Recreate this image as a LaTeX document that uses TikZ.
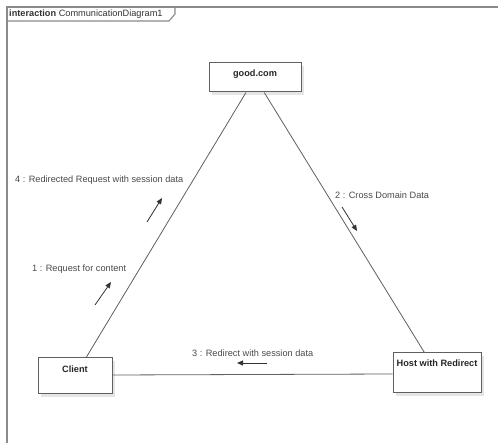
\documentclass[tikz,border=0pt]{standalone}
\usepackage{fontspec}
\setmainfont{Liberation Sans}
\usetikzlibrary{arrows.meta,shadows}
\definecolor{linegray}{HTML}{606060}
\definecolor{framegray}{HTML}{8A8A8A}
\definecolor{textgray}{HTML}{4A4A4A}
\begin{document}
\begin{tikzpicture}[x=1pt,y=-1pt,
  objbox/.style={draw=linegray, line width=1pt, fill=white, minimum width=#1, inner sep=0pt,
    drop shadow={shadow xshift=3pt, shadow yshift=-3pt, fill=black!10, opacity=1}},
  boxtitle/.style={font=\fontsize{9.2}{11}\selectfont\bfseries, text=black!85},
  msg/.style={font=\fontsize{9.2}{11}\selectfont, text=textgray, anchor=west, inner sep=0pt},
  link/.style={draw=linegray, line width=0.8pt},
  msgarrow/.style={draw=black!80, line width=0.8pt, -{Triangle[length=6pt,width=5pt]}}
]
\useasboundingbox (0,0) rectangle (498,443);
\fill[white] (0,0) rectangle (498,443);
% frame
\draw[framegray, line width=1.3pt] (7,443) -- (7,7) -- (498,7);
\draw[framegray, line width=1.1pt] (7,21) -- (169,21) -- (175,14) -- (175,7);
\node[anchor=west, inner sep=0pt, font=\fontsize{9.2}{11}\selectfont, text=black!80] (title) at (9,14)
  {\textbf{interaction} CommunicationDiagram1};
% objects
\node[objbox=92pt, minimum height=29pt] (good) at (255,77.5) {};
\node[boxtitle, anchor=north] (goodt) at ([yshift=-4pt]good.north) {good.com};
\node[objbox=74pt, minimum height=36pt] (client) at (75,376) {};
\node[boxtitle, anchor=north] (clientt) at ([yshift=-5pt]client.north) {Client};
\node[objbox=88pt, minimum height=40pt] (host) at (437,373) {};
\node[boxtitle, anchor=north] (hostt) at ([yshift=-4pt]host.north) {Host with Redirect};
% links
\draw[link] (client) -- (good);
\draw[link] (good) -- (host);
\draw[link] (client.east |- 0,375) -- (host.west |- 0,374);
% messages
\node[msg] (m4) at (15,180) {4 : Redirected Request with session data};
\node[msg] (m1) at (32,269) {1 : Request for content};
\node[msg] (m2) at (335,195) {2 : Cross Domain Data};
\node[msg] (m3) at (192,353) {3 : Redirect with session data};
\coordinate (a4s) at (147,222); \coordinate (a4e) at (162,198);
\coordinate (a1s) at (95,305); \coordinate (a1e) at (111,282);
\coordinate (a2s) at (342,207); \coordinate (a2e) at (357,231);
\coordinate (a3s) at (267,363); \coordinate (a3e) at (237,363);
\draw[msgarrow] (a4s) -- (a4e);
\draw[msgarrow] (a1s) -- (a1e);
\draw[msgarrow] (a2s) -- (a2e);
\draw[msgarrow] (a3s) -- (a3e);
\end{tikzpicture}
\end{document}
